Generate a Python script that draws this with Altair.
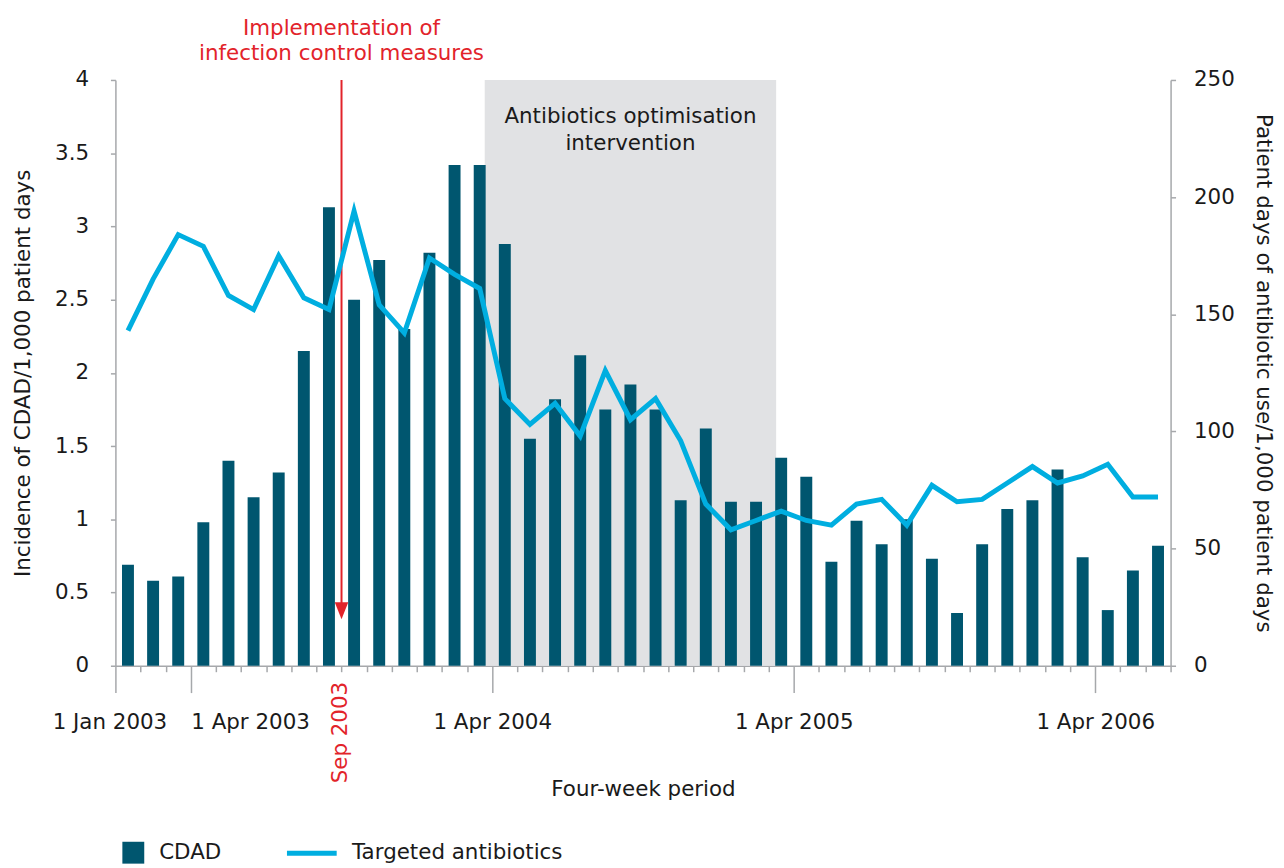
import altair as alt
import pandas as pd

# ---------------- data ----------------
cdad = [0.69, 0.58, 0.61, 0.98, 1.40, 1.15, 1.32, 2.15, 3.13, 2.50, 2.77, 2.30,
        2.82, 3.42, 3.42, 2.88, 1.55, 1.82, 2.12, 1.75, 1.92, 1.75, 1.13, 1.62,
        1.12, 1.12, 1.42, 1.29, 0.71, 0.99, 0.83, 1.00, 0.73, 0.36, 0.83, 1.07,
        1.13, 1.34, 0.74, 0.38, 0.65, 0.82]
antibiotics = [143, 165, 184, 179, 158, 152, 175, 157, 152, 194, 154, 142,
               174, 167, 161, 114, 103, 112, 98, 126, 105, 114, 96, 69,
               58, 62, 66, 62, 60, 69, 71, 60, 77, 70, 71, 78,
               85, 78, 81, 86, 72, 72]
period_index = list(range(len(cdad)))
tick_values = list(range(len(cdad) + 1))
major_ticks = [0, 3, 15, 27, 39]
major_labels = ["1 Jan 2003", "1 Apr 2003", "1 Apr 2004", "1 Apr 2005", "1 Apr 2006"]
left_ticks = [0, 0.5, 1, 1.5, 2, 2.5, 3, 3.5, 4]
right_ticks = [0, 50, 100, 150, 200, 250]

shade_start = [14.7]
shade_end = [26.3]
shade_text = ["Antibiotics optimisation", "intervention"]
shade_text_y = [3.749]

infection_x = [9]
infection_text = ["Implementation of", "infection control measures"]
infection_text_y = [4.346]
arrow_top = [4.0]
arrow_bottom = [0.40]
arrow_head_y = [0.375]
sep_label = ["Sep 2003"]
sep_label_y = [-0.11]

FONT = "DejaVu Sans"
FS = 21.5
TEAL = "#00566f"
CYAN = "#00aee0"
RED = "#e2232a"
GRAY = "#a6a8ab"
SHADE = "#e1e2e4"
BLACK = "#1a1a1a"

df = pd.DataFrame({
    "pos": [i + 0.5 for i in period_index],
    "cdad": cdad,
    "abx": antibiotics,
    "s1": ["CDAD"] * len(cdad),
    "s2": ["Targeted antibiotics"] * len(cdad),
})
shade_df = pd.DataFrame({"x1": shade_start, "x2": shade_end, "ytop": [4.0], "ybot": [0.0]})
shade_txt_df = pd.DataFrame({"x": [(shade_start[0] + shade_end[0]) / 2],
                             "y": shade_text_y, "t": ["\n".join(shade_text)]})
inf_txt_df = pd.DataFrame({"x": infection_x, "y": infection_text_y,
                           "t": ["\n".join(infection_text)]})
arrow_df = pd.DataFrame({"x": infection_x, "y1": arrow_top, "y2": arrow_bottom, "yh": arrow_head_y})
sep_df = pd.DataFrame({"x": infection_x, "y": sep_label_y, "t": sep_label})

# ---------------- scales / axes ----------------
major_test = "indexof([" + ",".join(str(v) for v in major_ticks) + "], datum.value) >= 0"
label_expr = " : ".join(f"datum.value == {v} ? '{l}'" for v, l in zip(major_ticks, major_labels)) + " : ''"

xs = alt.Scale(domain=[0, len(cdad)], nice=False, zero=False, padding=0)
x_axis = alt.Axis(
    values=tick_values,
    tickSize={"condition": {"test": major_test, "value": 27}, "value": 6},
    labelExpr=label_expr,
    labelFlush=False,
    labelOverlap=False,
    labelAlign={"condition": {"test": "datum.value == 3", "value": "left"}, "value": "center"},
    labelOffset={"condition": {"test": "datum.value == 0", "value": -6}, "value": 0},
    labelPadding=19,
    title="Four-week period",
    titlePadding=46,
    grid=False,
)
yl = alt.Scale(domain=[0, 4], nice=False, zero=True)
left_axis = alt.Axis(values=left_ticks, format="~g", orient="left", tickSize=5,
                     labelPadding=22, title="Incidence of CDAD/1,000 patient days",
                     titlePadding=20, grid=False)
yr = alt.Scale(domain=[0, 250], nice=False, zero=True)
right_axis = alt.Axis(values=right_ticks, orient="right", tickSize=5, labelPadding=18,
                      title="Patient days of antibiotic use/1,000 patient days",
                      titlePadding=17, grid=False)


def X(field):
    return alt.X(field, type="quantitative", scale=xs, axis=x_axis)


def YL(field):
    return alt.Y(field, type="quantitative", scale=yl, axis=left_axis)


shade = alt.Chart(shade_df).mark_rect(color=SHADE).encode(
    x=X("x1"), x2="x2", y=YL("ytop"), y2="ybot")

bars = alt.Chart(df).mark_bar(size=12).encode(
    x=X("pos"), y=YL("cdad"),
    color=alt.Color("s1:N", scale=alt.Scale(domain=["CDAD"], range=[TEAL]),
                    legend=alt.Legend(title=None, orient="none", legendX=7, legendY=766,
                                      symbolType="square", symbolSize=484,
                                      symbolStrokeWidth=0, labelFontSize=FS,
                                      labelFont=FONT, labelColor=BLACK, labelOffset=15,
                                      labelLimit=0)))

shade_txt = alt.Chart(shade_txt_df).mark_text(font=FONT, fontSize=FS, color=BLACK,
                                              align="center", baseline="middle",
                                              lineBreak="\n", lineHeight=27).encode(
    x=X("x"), y=YL("y"), text="t:N")

inf_txt = alt.Chart(inf_txt_df).mark_text(font=FONT, fontSize=FS, color=RED,
                                          align="center", baseline="middle",
                                          lineBreak="\n", lineHeight=25).encode(
    x=X("x"), y=YL("y"), text="t:N")

arrow_line = alt.Chart(arrow_df).mark_rule(color=RED, strokeWidth=2).encode(
    x=X("x"), y=YL("y1"), y2="y2")
arrow_head = alt.Chart(arrow_df).mark_point(shape="M-0.8,-1L0.8,-1L0,1Z", size=289,
                                            filled=True, color=RED, opacity=1).encode(
    x=X("x"), y=YL("yh"))

sep_txt = alt.Chart(sep_df).mark_text(font=FONT, fontSize=FS, color=RED, angle=270,
                                      align="right", baseline="middle").encode(
    x=X("x"), y=YL("y"), text="t:N")

left_group = alt.layer(shade, bars, shade_txt, arrow_line, arrow_head, inf_txt, sep_txt)

line = alt.Chart(df).mark_line(strokeWidth=5, strokeJoin="miter").encode(
    x=X("pos"),
    y=alt.Y("abx", type="quantitative", scale=yr, axis=right_axis),
    stroke=alt.Stroke("s2:N", scale=alt.Scale(domain=["Targeted antibiotics"], range=[CYAN]),
                      legend=alt.Legend(title=None, orient="none", legendX=170, legendY=750,
                                        symbolType="stroke", symbolSize=2500,
                                        symbolStrokeWidth=5, labelFontSize=FS,
                                        labelFont=FONT, labelColor=BLACK, labelOffset=13,
                                        labelLimit=0)))

chart = alt.layer(left_group, line).resolve_scale(y="independent").properties(
    width=1061, height=589, autosize="none",
    padding={"left": 108, "top": 70, "right": 106, "bottom": 198},
).configure_view(stroke=None).configure_axis(
    labelFont=FONT, titleFont=FONT, labelFontSize=FS, titleFontSize=FS,
    labelColor=BLACK, titleColor=BLACK, titleFontWeight="normal",
    domainColor=GRAY, tickColor=GRAY, domainWidth=1.5, tickWidth=1.5,
)

chart.save("out.html", embed_options={"renderer": "svg", "actions": False})
